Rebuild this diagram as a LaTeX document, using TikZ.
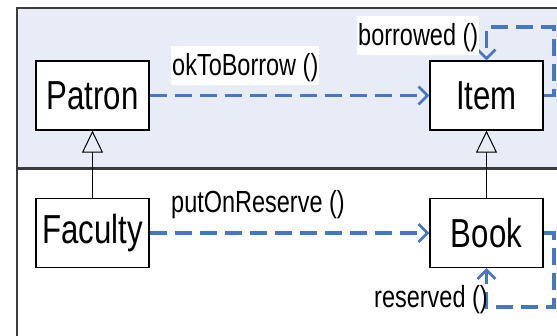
\documentclass[tikz,border=0pt]{standalone}
\usepackage{fontspec}
\setmainfont{Liberation Sans}[FakeStretch=0.77]
\usetikzlibrary{arrows.meta}
\definecolor{panel}{RGB}{231,236,246}
\definecolor{msgblue}{RGB}{70,118,198}
\definecolor{framegray}{RGB}{60,60,60}
\begin{document}
\begin{tikzpicture}[x=1pt,y=-1pt,
  cls/.style={draw=black, line width=1.3pt, fill=white, minimum width=113pt,
    minimum height=69pt, inner sep=0pt, font=\fontsize{40.5}{41}\selectfont},
  lbl/.style={anchor=base west, inner xsep=1pt, inner ysep=2pt,
    text height=27pt, text depth=8pt, font=\fontsize{30.5}{31}\selectfont},
  inh/.style={line width=1pt, -{Triangle[open, length=22pt, width=21pt, line width=1pt]}},
  msg/.style={draw=msgblue, line width=3.5pt, dash pattern=on 17pt off 8pt,
    -{Straight Barb[length=9pt, width=18pt, line width=2.6pt]}}]
\useasboundingbox (0,0) rectangle (557,335);
\clip (0,0) rectangle (557,335);
\fill[white] (0,0) rectangle (557,335);

% package frames
\draw[framegray, line width=1.6pt, fill=panel] (17,8) rectangle (600,168);
\draw[framegray, line width=1.6pt, fill=white] (17,169) rectangle (600,360);

% classes
\node[cls] (Patron)  at (92.5,95.5) {Patron};
\node[cls] (Item)    at (486.5,95.5) {Item};
\node[cls] (Faculty) at (92.5,233) {Faculty};
\node[cls] (Book)    at (486.5,233) {Book};

% generalizations
\draw[inh] (Faculty.north) -- (Patron.south);
\draw[inh] (Book.north) -- (Item.south);

% messages
\draw[msg] (Patron.east) -- (Item.west);
\draw[msg] (Faculty.east) -- (Book.west);

\coordinate (ItemLoop) at (554,27);
\draw[msg] (Item.east) -| (ItemLoop) -| (Item.north);
\coordinate (BookLoop) at (554,307);
\draw[msg] (Book.east) -| (BookLoop) -| (Book.south);

% message labels
\node[lbl, fill=white] (okl) at (171,75) {okToBorrow ()};
\node[lbl, fill=white] (borl) at (357,45) {borrowed ()};
\node[lbl] (putl) at (170,212) {putOnReserve ()};
\node[lbl] (resl) at (373,307) {reserved ()};
\end{tikzpicture}
\end{document}
